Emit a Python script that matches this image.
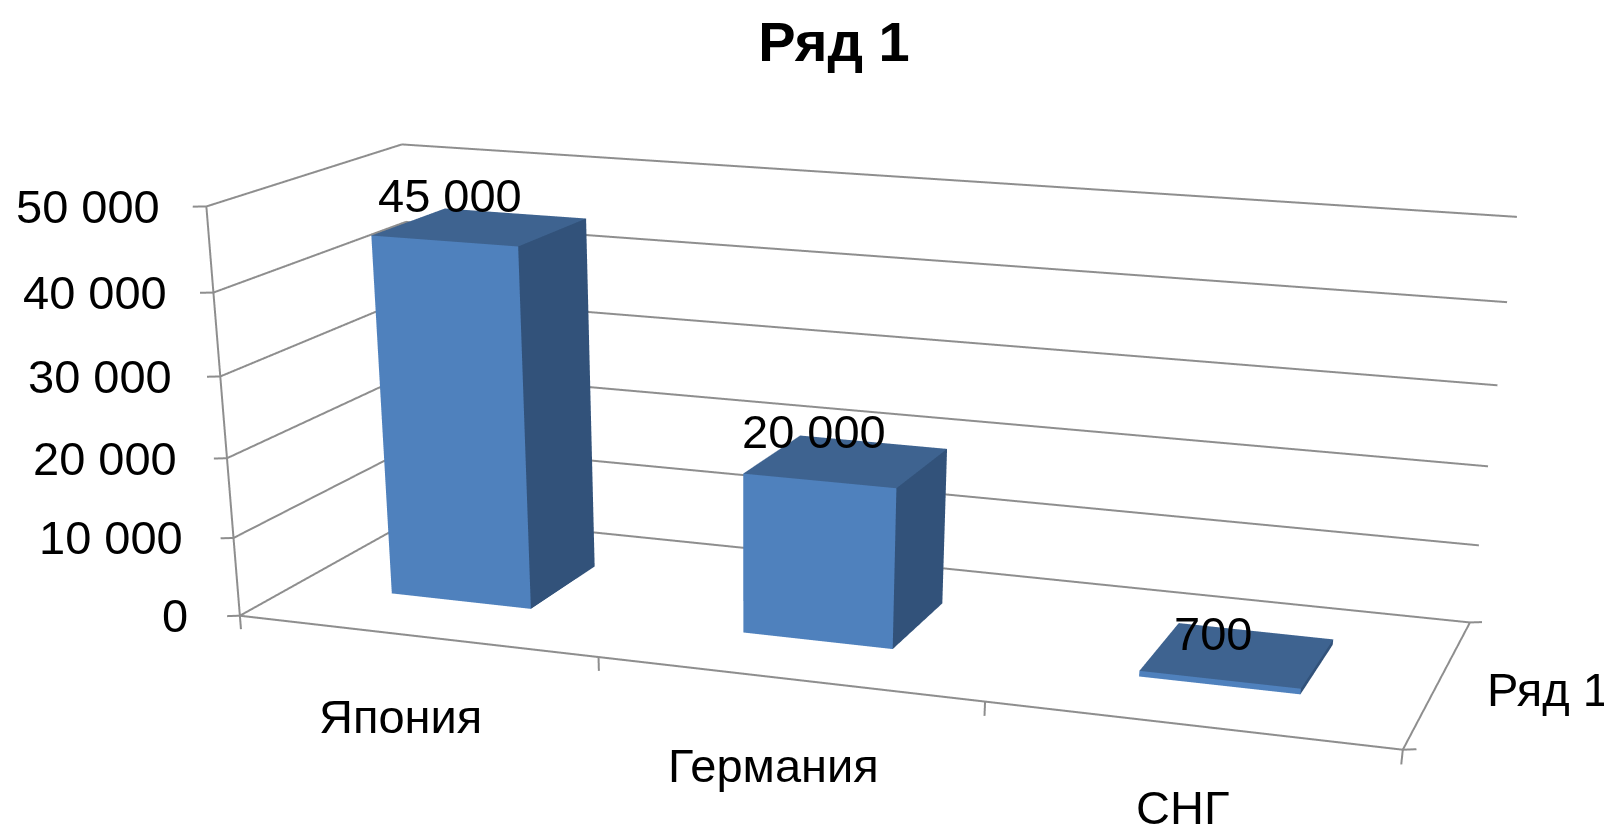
import numpy as np, plotly.graph_objects as go

categories = ["Япония", "Германия", "СНГ"]
values = [45000, 20000, 700]
series_name = "Ряд 1"
z_ticks = [0, 10000, 20000, 30000, 40000, 50000]
z_tick_labels = ["0", "10 000", "20 000", "30 000", "40 000", "50 000"]
data_labels = ["45 000", "20 000", "700"]

bar_width = 0.4
bar_depth = 0.4
bar_nudge = [-.025, -.035, 0]

FIG_H = 2500
base_aspect = np.array([2.9685, 1.0692, 1.0])
base_eye = np.array([2.3342, -7.2191, 1.7355])
base_center = np.array([.0871, -.5468, -2.0682])
up_vec = dict(x=-.0157, y=.0146, z=1)

x_rng = [-.1, 3.1]; y_rng = [-.1, 1.1]; z_rng = [-4000, 54000]
old = [(0, 3), (0, 1), (0, 50000)]
new = [x_rng, y_rng, z_rng]
span_ratio = np.array([(n[1] - n[0]) / (o[1] - o[0]) for n, o in zip(new, old)])
mid_u = np.array([((n[0] + n[1]) / 2 - o[0]) / (o[1] - o[0]) for n, o in zip(new, old)])
d = base_aspect * (mid_u - .5)
asp = base_aspect * span_ratio
eye = base_eye - d
cen = base_center - d

FRONT, SIDE, TOP = "#4F81BD", "#32527A", "#3E6390"
GRID = "#8E8E8E"
FONT = "Liberation Sans"
TS = 47
fig = go.Figure()
def quad_mesh(color):
    return dict(x=[], y=[], z=[], i=[], j=[], k=[], color=color)
front, side, top = quad_mesh(FRONT), quad_mesh(SIDE), quad_mesh(TOP)
def add_quad(m, pts):
    n = len(m["x"])
    for q in pts:
        m["x"].append(q[0]); m["y"].append(q[1]); m["z"].append(q[2])
    m["i"] += [n, n]; m["j"] += [n + 1, n + 2]; m["k"] += [n + 2, n + 3]
for c, v in enumerate(values):
    xc = c + .5 + bar_nudge[c]
    x0, x1 = xc - bar_width / 2, xc + bar_width / 2
    y0, y1 = .5 - bar_depth / 2, .5 + bar_depth / 2
    add_quad(front, [(x0, y0, 0), (x1, y0, 0), (x1, y0, v), (x0, y0, v)])
    add_quad(side, [(x1, y0, 0), (x1, y1, 0), (x1, y1, v), (x1, y0, v)])
    add_quad(top, [(x0, y0, v), (x1, y0, v), (x1, y1, v), (x0, y1, v)])
for m in (front, side, top):
    fig.add_trace(go.Mesh3d(**m, flatshading=True, hoverinfo="skip",
                            lighting=dict(ambient=1, diffuse=0, specular=0, fresnel=0, roughness=1)))
lx, ly, lz = [], [], []
def seg(A, B):
    lx.extend([A[0], B[0], None]); ly.extend([A[1], B[1], None]); lz.extend([A[2], B[2], None])
TX, TY, TZ = .029, .0135, 1750
for v in z_ticks:
    seg((0, 1, v), (3, 1, v)); seg((0, 0, v), (0, 1, v)); seg((-TX, -TY, v), (0, 0, v))
seg((0, 0, 0), (0, 0, 50000)); seg((0, 0, 0), (3, 0, 0)); seg((3, 0, 0), (3, 1, 0))
for k in range(4):
    seg((k, 0, 0), (k, 0, -TZ))
seg((3, 0, 0), (3 + TX, TY, 0)); seg((3, 1, 0), (3 + TX, 1 + TY, 0))
fig.add_trace(go.Scatter3d(x=lx, y=ly, z=lz, mode="lines", line=dict(color=GRID, width=4), hoverinfo="skip", connectgaps=False))
def txt(x, y, z, s, xs=0, ys=0, xa="center", size=TS):
    return dict(x=x, y=y, z=z, text=s, showarrow=False, xanchor=xa, yanchor="middle", xshift=xs, yshift=ys,
                font=dict(family=FONT, size=size, color="black"))
ann = []
for v, s, sh in zip(z_ticks, z_tick_labels, [-50, -49, -48, -46, -44, -44]):
    ann.append(txt(0, 0, v, s, xs=sh, xa="right"))
for c, s in enumerate(categories):
    ann.append(txt(c + .5, 0, 0, s, xs=[-15, -15, -7][c], ys=[-80, -87, -82][c]))
for c, (v, s) in enumerate(zip(values, data_labels)):
    ann.append(txt(c + .5, .5, v, s, xs=[-39, -46, -25][c], ys=[32, 31, 21][c]))
ann.append(txt(3, .5, 0, series_name, xs=110, ys=-7))
hid = dict(visible=False)
fig.update_layout(
    width=1612, height=FIG_H, margin=dict(l=0, r=0, t=0, b=0), showlegend=False,
    paper_bgcolor="white",
    title=dict(text="<b>" + series_name + "</b>", x=826 / 1612, xref="paper", xanchor="center",
               y=1 - 33 / FIG_H, yanchor="middle", font=dict(family=FONT, size=56, color="black")),
    scene=dict(
        domain=dict(x=[0, 1], y=[0, 1]), dragmode="orbit",
        xaxis=dict(hid, range=x_rng), yaxis=dict(hid, range=y_rng), zaxis=dict(hid, range=z_rng),
        aspectmode="manual", aspectratio=dict(x=asp[0], y=asp[1], z=asp[2]),
        camera=dict(eye=dict(x=eye[0], y=eye[1], z=eye[2]), center=dict(x=cen[0], y=cen[1], z=cen[2]), up=up_vec),
        annotations=ann,
    ),
)
fig.write_html("out.html")
